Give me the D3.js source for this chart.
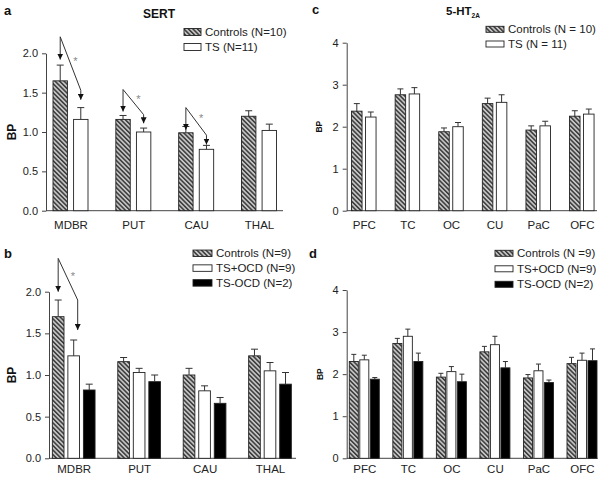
<!DOCTYPE html>
<html>
<head>
<meta charset="utf-8">
<script src="https://cdn.jsdelivr.net/npm/d3@7"></script>
<style>
  html, body { margin: 0; padding: 0; background: #fff; }
  svg { display: block; font-family: "Liberation Sans", Arial, sans-serif; }
</style>
</head>
<body>
<svg id="chart" width="604" height="481"></svg>
<script>
// ---------------- DATA ----------------
const regionsSERT = ["MDBR", "PUT", "CAU", "THAL"];
const regions5HT = ["PFC", "TC", "OC", "CU", "PaC", "OFC"];

// Panel a (SERT)
const sertControls = [1.65, 1.16, 0.99, 1.20];
const sertControlsErr = [0.20, 0.05, 0.08, 0.07];
const sertTS = [1.16, 1.00, 0.78, 1.02];
const sertTSErr = [0.15, 0.05, 0.05, 0.08];

// Panel b (SERT, OCD split)
const sertOcdControls = [1.70, 1.16, 1.00, 1.23];
const sertOcdControlsErr = [0.20, 0.05, 0.08, 0.08];
const sertTsPlusOcd = [1.23, 1.03, 0.81, 1.05];
const sertTsPlusOcdErr = [0.19, 0.05, 0.06, 0.10];
const sertTsMinusOcd = [0.82, 0.92, 0.66, 0.89];
const sertTsMinusOcdErr = [0.07, 0.08, 0.07, 0.14];

// Panel c (5-HT2A)
const htControls = [2.37, 2.76, 1.88, 2.55, 1.92, 2.25];
const htControlsErr = [0.18, 0.14, 0.09, 0.13, 0.10, 0.13];
const htTS = [2.23, 2.78, 2.00, 2.58, 2.02, 2.30];
const htTSErr = [0.12, 0.15, 0.10, 0.18, 0.11, 0.12];

// Panel d (5-HT2A, OCD split)
const htOcdControls = [2.30, 2.73, 1.93, 2.53, 1.91, 2.25];
const htOcdControlsErr = [0.17, 0.12, 0.09, 0.13, 0.08, 0.15];
const htTsPlusOcd = [2.34, 2.90, 2.06, 2.70, 2.08, 2.33];
const htTsPlusOcdErr = [0.11, 0.17, 0.12, 0.20, 0.16, 0.17];
const htTsMinusOcd = [1.88, 2.30, 1.82, 2.15, 1.80, 2.32];
const htTsMinusOcdErr = [0.04, 0.20, 0.18, 0.15, 0.06, 0.28];

// Tick labels
const sertTicks = [0.0, 0.5, 1.0, 1.5, 2.0];
const htTicks = [0, 1, 2, 3, 4];

// Legend labels
const legendA = ["Controls (N=10)", "TS (N=11)"];
const legendB = ["Controls (N=9)", "TS+OCD (N=9)", "TS-OCD (N=2)"];
const legendC = ["Controls (N = 10)", "TS (N = 11)"];
const legendD = ["Controls (N =9)", "TS+OCD (N=9)", "TS-OCD (N=2)"];

// Significance arrows (values in BP units)
const sigA = [
  { cat: "MDBR", apex: 2.21, tipA: 1.92, bend: 1.53, tipB: 1.41 },
  { cat: "PUT",  apex: 1.54, tipA: 1.26, bend: 1.22, tipB: 1.11 },
  { cat: "CAU",  apex: 1.31, tipA: 1.03, bend: 0.96, tipB: 0.84 }
];
const sigB = [
  { cat: "MDBR", apex: 2.40, tipA: 2.00, bend: 1.90, tipB: 1.54 }
];

// ---------------- DRAWING ----------------
const svg = d3.select("#chart");
const defs = svg.append("defs");

const hatch = defs.append("pattern")
  .attr("id", "hatch").attr("patternUnits", "userSpaceOnUse")
  .attr("width", 3.2).attr("height", 3.2)
  .attr("patternTransform", "rotate(-45)");
hatch.append("rect").attr("width", 3.2).attr("height", 3.2).attr("fill", "#c4c4c4");
hatch.append("rect").attr("width", 1.5).attr("height", 3.2).attr("fill", "#3a3a3a");

defs.append("marker")
  .attr("id", "arrow").attr("viewBox", "0 0 10 10")
  .attr("refX", 10).attr("refY", 5)
  .attr("markerWidth", 6).attr("markerHeight", 6)
  .attr("markerUnits", "userSpaceOnUse")
  .attr("orient", "auto")
  .append("path").attr("d", "M0,0 L10,5 L0,10 Z").attr("fill", "#111");

const fills = ["url(#hatch)", "#ffffff", "#000000"];
const AX = "#444";

function panel(cfg) {
  const g = svg.append("g");
  const y = d3.scaleLinear().domain([0, cfg.ymax]).range([cfg.y0, cfg.yTop]);
  const x = d3.scalePoint().domain(cfg.cats).range(cfg.centers);
  const sub = d3.scaleBand().domain(d3.range(cfg.series.length))
    .range([-cfg.groupW / 2, cfg.groupW / 2]).paddingInner(cfg.pad);

  // y axis
  const yAxis = d3.axisLeft(y).tickValues(cfg.ticks).tickFormat(cfg.fmt)
    .tickSizeInner(4).tickSizeOuter(0).tickPadding(4);
  const ya = g.append("g").attr("transform", `translate(${cfg.x0},0)`).call(yAxis);
  ya.select(".domain").attr("stroke", AX);
  ya.selectAll(".tick line").attr("stroke", AX);
  ya.selectAll(".tick text").attr("font-size", 11).attr("fill", "#222")
    .attr("font-family", "Liberation Sans, Arial, sans-serif");

  // x axis (baseline only) with category labels
  const xAxis = d3.axisBottom(x).tickSize(0).tickPadding(cfg.labelPad);
  const xa = g.append("g").attr("transform", `translate(0,${cfg.y0})`).call(xAxis);
  xa.select(".domain").attr("d", `M${cfg.x0},0H${cfg.x1}`).attr("stroke", AX);
  xa.selectAll(".tick text").attr("font-size", 11.5).attr("fill", "#222")
    .attr("font-family", "Liberation Sans, Arial, sans-serif");

  // bars
  cfg.series.forEach((s, si) => {
    const bx = c => x(c) + sub(si);
    g.append("g").selectAll("rect").data(cfg.cats).join("rect")
      .attr("x", c => bx(c))
      .attr("width", sub.bandwidth())
      .attr("y", (c, i) => y(s.values[i]))
      .attr("height", (c, i) => cfg.y0 - y(s.values[i]))
      .attr("fill", fills[si])
      .attr("stroke", "#222").attr("stroke-width", 0.9);
    // error bars (upper only)
    const eg = g.append("g").attr("stroke", "#333").attr("stroke-width", 1);
    eg.selectAll("line.v").data(cfg.cats).join("line")
      .attr("x1", c => bx(c) + sub.bandwidth() / 2)
      .attr("x2", c => bx(c) + sub.bandwidth() / 2)
      .attr("y1", (c, i) => y(s.values[i]))
      .attr("y2", (c, i) => y(s.values[i] + s.err[i]));
    eg.selectAll("line.c").data(cfg.cats).join("line")
      .attr("x1", c => bx(c) + sub.bandwidth() / 2 - cfg.cap / 2)
      .attr("x2", c => bx(c) + sub.bandwidth() / 2 + cfg.cap / 2)
      .attr("y1", (c, i) => y(s.values[i] + s.err[i]))
      .attr("y2", (c, i) => y(s.values[i] + s.err[i]));
  });

  // significance arrows
  (cfg.sig || []).forEach(d => {
    const xa0 = x(d.cat) + sub(0) + sub.bandwidth() / 2;
    const xb0 = x(d.cat) + sub(1) + sub.bandwidth() / 2 + (cfg.sigShift || 0);
    g.append("path")
      .attr("d", `M${xa0},${y(d.apex)}V${y(d.tipA)}`)
      .attr("fill", "none").attr("stroke", "#333").attr("stroke-width", 1)
      .attr("marker-end", "url(#arrow)");
    g.append("path")
      .attr("d", `M${xa0},${y(d.apex)}L${xb0},${y(d.bend)}V${y(d.tipB)}`)
      .attr("fill", "none").attr("stroke", "#333").attr("stroke-width", 1)
      .attr("marker-end", "url(#arrow)");
    const mx = (xa0 + xb0) / 2, my = (y(d.apex) + y(d.bend)) / 2;
    g.append("text").attr("x", mx + 5).attr("y", my + 1)
      .attr("font-size", 11).attr("fill", "#888").attr("text-anchor", "middle")
      .text("*");
  });

  // y label
  g.append("text")
    .attr("transform", `translate(${cfg.bpX},${(cfg.y0 + cfg.yTop) / 2}) rotate(-90)`)
    .attr("text-anchor", "middle").attr("dominant-baseline", "central")
    .attr("font-size", cfg.bpSize).attr("font-weight", "bold").attr("fill", "#111")
    .text("BP");

  // panel letter
  g.append("text").attr("x", cfg.letterX).attr("y", cfg.letterY)
    .attr("font-size", 13).attr("font-weight", "bold").attr("fill", "#111")
    .text(cfg.letter);

  // legend
  const lg = g.append("g");
  cfg.legend.forEach((t, i) => {
    const ly = cfg.legY + i * cfg.legStep;
    lg.append("rect").attr("x", cfg.legX).attr("y", ly - cfg.swH / 2)
      .attr("width", cfg.swW).attr("height", cfg.swH)
      .attr("fill", fills[i]).attr("stroke", "#222").attr("stroke-width", 0.9);
    lg.append("text").attr("x", cfg.legX + cfg.swW + 4).attr("y", ly)
      .attr("dominant-baseline", "central")
      .attr("font-size", 11.5).attr("fill", "#222").text(t);
  });
  return g;
}

const pa = panel({
  cats: regionsSERT, ymax: 2.0, ticks: sertTicks, fmt: d3.format(".1f"),
  x0: 46, x1: 283, y0: 210.7, yTop: 53.3, centers: [70.5, 259], groupW: 35, pad: 0.3, cap: 7,
  series: [{ values: sertControls, err: sertControlsErr }, { values: sertTS, err: sertTSErr }],
  sig: sigA, labelPad: 10, bpX: 12, bpSize: 12, letter: "a", letterX: 4, letterY: 15,
  legend: legendA, legX: 184, legY: 32, legStep: 15, swW: 17, swH: 7
});
pa.append("text").attr("x", 159).attr("y", 18).attr("text-anchor", "middle")
  .attr("font-size", 12).attr("font-weight", "bold").attr("fill", "#111").text("SERT");

panel({
  cats: regionsSERT, ymax: 2.0, ticks: sertTicks, fmt: d3.format(".1f"),
  x0: 49, x1: 296, y0: 458.3, yTop: 291.7, centers: [73.7, 270], groupW: 42.7, pad: 0.25, cap: 7,
  series: [
    { values: sertOcdControls, err: sertOcdControlsErr },
    { values: sertTsPlusOcd, err: sertTsPlusOcdErr },
    { values: sertTsMinusOcd, err: sertTsMinusOcdErr }
  ],
  sig: sigB, sigShift: 4, labelPad: 7, bpX: 12, bpSize: 12, letter: "b", letterX: 4, letterY: 258,
  legend: legendB, legX: 193, legY: 253.3, legStep: 14.8, swW: 19, swH: 6.5
});

const pc = panel({
  cats: regions5HT, ymax: 4, ticks: htTicks, fmt: d3.format("d"),
  x0: 346.7, x1: 597, y0: 210.7, yTop: 42.7, centers: [363.8, 581.8], groupW: 24.5, pad: 0.25, cap: 6,
  series: [{ values: htControls, err: htControlsErr }, { values: htTS, err: htTSErr }],
  labelPad: 10, bpX: 319, bpSize: 8.5, letter: "c", letterX: 312, letterY: 14,
  legend: legendC, legX: 486, legY: 29.3, legStep: 14.7, swW: 18, swH: 6
});
const tt = pc.append("text").attr("x", 446).attr("y", 15)
  .attr("font-size", 11.5).attr("font-weight", "bold").attr("fill", "#111");
tt.append("tspan").text("5-HT");
tt.append("tspan").attr("font-size", 6.5).attr("dy", 3).text("2A");

panel({
  cats: regions5HT, ymax: 4, ticks: htTicks, fmt: d3.format("d"),
  x0: 346.7, x1: 597.7, y0: 458.3, yTop: 290, centers: [364.3, 582], groupW: 30, pad: 0.14, cap: 5,
  series: [
    { values: htOcdControls, err: htOcdControlsErr },
    { values: htTsPlusOcd, err: htTsPlusOcdErr },
    { values: htTsMinusOcd, err: htTsMinusOcdErr }
  ],
  labelPad: 7, bpX: 320, bpSize: 8.5, letter: "d", letterX: 309, letterY: 258,
  legend: legendD, legX: 495, legY: 253.3, legStep: 15.5, swW: 18, swH: 6
});
</script>
</body>
</html>
